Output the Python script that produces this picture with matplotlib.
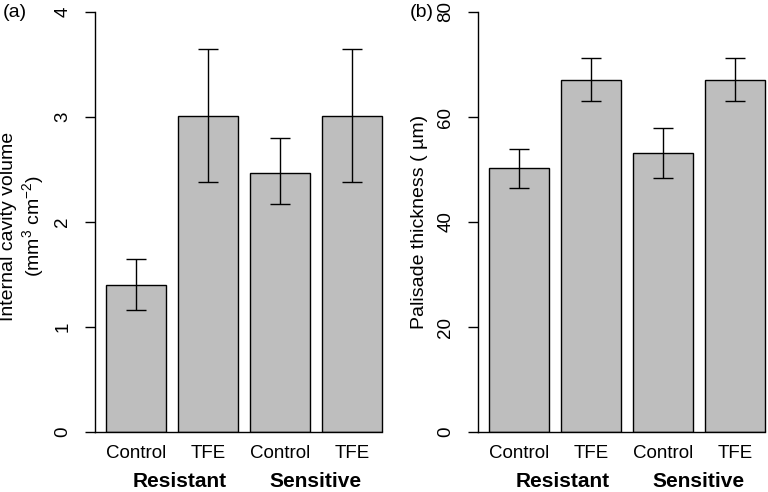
import numpy as np
import matplotlib
matplotlib.use("Agg")
import matplotlib.pyplot as plt

plt.rcParams["font.family"] = ["Liberation Sans", "DejaVu Sans"]
plt.rcParams["mathtext.default"] = "regular"

# data
treatments = ["Control", "TFE", "Control", "TFE"]
groups = ["Resistant", "Sensitive"]

cavity_mean = [1.40, 3.01, 2.47, 3.01]
cavity_low = [1.16, 2.38, 2.17, 2.38]
cavity_high = [1.65, 3.65, 2.80, 3.65]

palisade_mean = [50.2, 67.0, 53.2, 67.0]
palisade_low = [46.4, 63.0, 48.3, 63.0]
palisade_high = [54.0, 71.3, 58.0, 71.3]

W, H = 768, 492
fig = plt.figure(figsize=(W / 100, H / 100), dpi=100)


def px(x0, y0, w, h):
    return [x0 / W, 1 - (y0 + h) / H, w / W, h / H]


def panel(ax, means, low, high, ymax, ystep):
    means = np.array(means)
    left = 0.2 + 1.2 * np.arange(len(means))
    centers = left + 0.5
    ax.bar(left, means, width=1.0, align="edge", color="#bebebe",
           edgecolor="black", linewidth=1.0, zorder=2)
    yerr = [means - np.array(low), np.array(high) - means]
    ax.errorbar(centers, means, yerr=yerr, fmt="none", ecolor="black",
                elinewidth=1.0, capsize=7.5, capthick=1.0, zorder=3)
    x0 = 0.016
    ax.set_xlim(x0, 4.984)
    ax.set_ylim(0, ymax)
    ax.plot([x0, left[-1] + 1.0], [0, 0], color="black", lw=1.0,
            clip_on=False, zorder=4)
    for s in ["top", "right", "bottom"]:
        ax.spines[s].set_visible(False)
    ax.spines["left"].set_linewidth(1.0)
    ax.set_yticks(np.arange(0, ymax + ystep / 2, ystep))
    ax.tick_params(axis="y", length=7, width=1.0, pad=10, labelsize=13.5,
                   labelrotation=90)
    for t in ax.get_yticklabels():
        t.set_va("center")
    ax.set_xticks(centers)
    ax.set_xticklabels(treatments)
    ax.tick_params(axis="x", length=0, pad=9, labelsize=13.5)
    gpos = [centers[0:2].mean() + 0.12, centers[2:4].mean()]
    for g, xg in zip(groups, gpos):
        ax.text(xg, -0.118, g, transform=ax.get_xaxis_transform(),
                ha="center", va="center", fontsize=15, fontweight="bold")


ax1 = fig.add_axes(px(95, 12, 298, 420))
panel(ax1, cavity_mean, cavity_low, cavity_high, 4, 1)
fig.text(23 / W, 1 - 226 / H, "Internal cavity volume\n(mm$^3$ cm$^{-2}$)",
         rotation=90, ha="center", va="center", fontsize=14,
         linespacing=1.18)
fig.text(3 / W, 1 - 4 / H, "(a)", ha="left", va="top", fontsize=14)

ax2 = fig.add_axes(px(478, 12, 298, 420))
panel(ax2, palisade_mean, palisade_low, palisade_high, 80, 20)
fig.text(420 / W, 1 - 222 / H, "Palisade thickness ( \u00b5m)",
         rotation=90, ha="center", va="center", fontsize=14)
fig.text(410 / W, 1 - 4 / H, "(b)", ha="left", va="top", fontsize=14)

fig.savefig("out.png", dpi=100)
